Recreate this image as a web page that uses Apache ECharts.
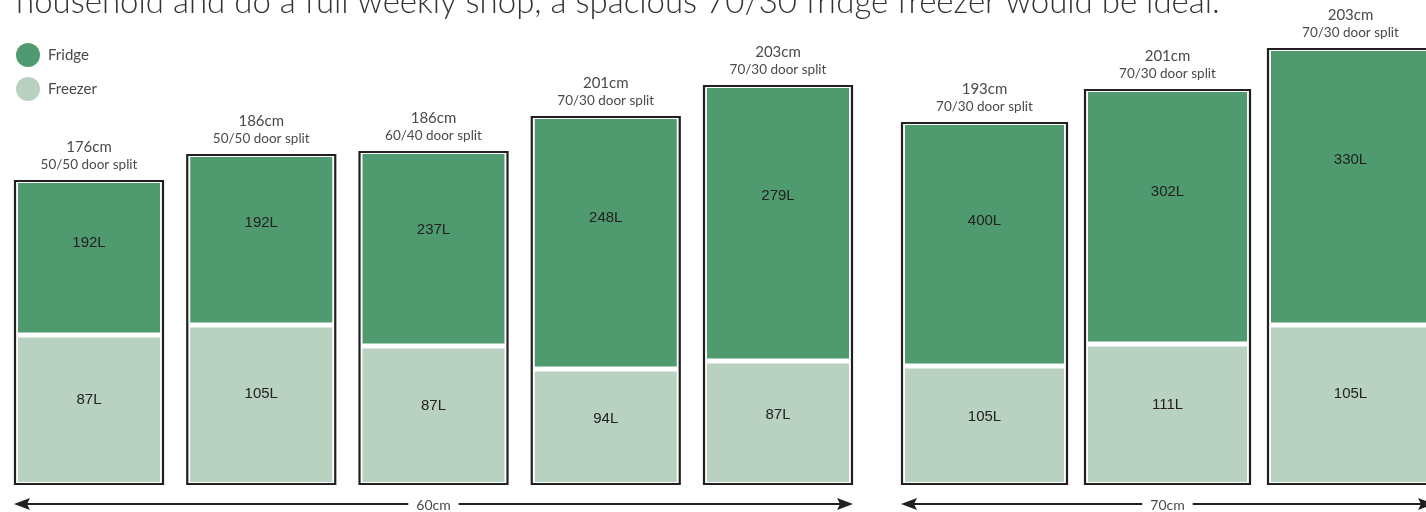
<!DOCTYPE html>
<html>
<head>
<meta charset="utf-8">
<script src="https://cdn.jsdelivr.net/npm/echarts@6/dist/echarts.min.js"></script>
<style>
  html, body { margin: 0; background: #fff; }
  #chart_box { width: 1426px; height: 512px; }
</style>
</head>
<body>
<div id="chart_box"></div>
<script>
// fridge freezers, left to right
const heightLabels = ['176cm', '186cm', '186cm', '201cm', '203cm', '193cm', '201cm', '203cm'];
const splitLabels = ['50/50 door split', '50/50 door split', '60/40 door split', '70/30 door split',
  '70/30 door split', '70/30 door split', '70/30 door split', '70/30 door split'];
const widthGroup = [0, 0, 0, 0, 0, 1, 1, 1]; // index into groupLabels
const groupLabels = ['60cm', '70cm'];
const fridgeLitres = [192, 192, 237, 248, 279, 400, 302, 330];
const freezerLitres = [87, 105, 87, 94, 87, 105, 111, 105];
// drawn box height and freezer part height (picture units)
const boxHeight = [305, 331, 334, 369, 400, 363, 396, 437];
const freezerHeight = [150, 160, 139, 116, 124, 119, 141, 160];

const titleText = 'household and do a full weekly shop, a spacious 70/30 fridge freezer would be ideal.';

const FRIDGE = '#4f9b6f';
const FREEZER = '#b8d1c1';
const INK = '#231f20';
const LABEL = '#4a4a4a';

// horizontal layout of each width group (x axis units)
const groups = [
  { start: 14, width: 150, step: 172.25 },
  { start: 901, width: 167, step: 183 }
];

function slot(i) {
  const g = widthGroup[i];
  const k = widthGroup.slice(0, i).filter(v => v === g).length;
  const L = groups[g];
  return { left: L.start + k * L.step, width: L.width };
}

const barData = heightLabels.map((_, i) => [i, boxHeight[i], freezerHeight[i]]);

function renderFridge(params, api) {
  const i = api.value(0);
  const s = slot(i);
  const tl = api.coord([s.left, api.value(1)]);
  const br = api.coord([s.left + s.width, 0]);
  const split = api.coord([0, api.value(2)])[1];
  const x = tl[0], w = br[0] - tl[0], top = tl[1], bot = br[1];
  const cx = x + w / 2;
  const fTop = top + 3, fBot = split - 2.5;
  return {
    type: 'group',
    children: [
      { type: 'rect', shape: { x: x + 1, y: top + 1, width: w - 2, height: bot - top - 2 },
        style: { fill: '#fff', stroke: INK, lineWidth: 2.2 } },
      { type: 'rect', shape: { x: x + 4, y: fTop, width: w - 8, height: fBot - fTop },
        style: { fill: FRIDGE } },
      { type: 'text', style: { x: cx, y: fTop + (fBot - fTop) * 0.4, text: fridgeLitres[i] + 'L',
        font: '15px "Liberation Sans", Arial, sans-serif', fill: '#222', align: 'center', verticalAlign: 'middle' } },
      { type: 'text', style: { x: cx, y: top - 33, text: heightLabels[i],
        font: '15px Lato, sans-serif', fill: LABEL, align: 'center', verticalAlign: 'middle' } },
      { type: 'text', style: { x: cx, y: top - 15, text: splitLabels[i],
        font: '13.5px Lato, sans-serif', fill: LABEL, align: 'center', verticalAlign: 'middle' } }
    ]
  };
}

function renderFreezer(params, api) {
  const i = api.value(0);
  const s = slot(i);
  const tl = api.coord([s.left, api.value(2)]);
  const br = api.coord([s.left + s.width, 0]);
  const x = tl[0], w = br[0] - tl[0];
  const zTop = tl[1] + 2.5, zBot = br[1] - 3;
  return {
    type: 'group',
    children: [
      { type: 'rect', shape: { x: x + 4, y: zTop, width: w - 8, height: zBot - zTop },
        style: { fill: FREEZER } },
      { type: 'text', style: { x: x + w / 2, y: zTop + (zBot - zTop) * 0.43, text: freezerLitres[i] + 'L',
        font: '15px "Liberation Sans", Arial, sans-serif', fill: '#222', align: 'center', verticalAlign: 'middle' } }
    ]
  };
}

function renderArrow(params, api) {
  const g = api.value(0);
  const idx = widthGroup.map((v, i) => v === g ? i : -1).filter(i => i >= 0);
  const first = slot(idx[0]), last = slot(idx[idx.length - 1]);
  const a = api.coord([first.left, -19]);
  const b = api.coord([last.left + last.width, -19]);
  const y = a[1], L = 16, H = 6;
  return {
    type: 'group',
    children: [
      { type: 'line', shape: { x1: a[0] + 4, y1: y, x2: b[0] - 4, y2: y }, style: { stroke: INK, lineWidth: 2 } },
      { type: 'polygon', shape: { points: [[a[0], y], [a[0] + L, y - H], [a[0] + L - 3, y], [a[0] + L, y + H]] },
        style: { fill: INK } },
      { type: 'polygon', shape: { points: [[b[0], y], [b[0] - L, y - H], [b[0] - L + 3, y], [b[0] - L, y + H]] },
        style: { fill: INK } },
      { type: 'text', style: { x: (a[0] + b[0]) / 2, y: y + 1, text: groupLabels[g],
        font: '14px Lato, sans-serif', fill: LABEL, align: 'center', verticalAlign: 'middle',
        backgroundColor: '#fff', padding: [0, 8] } }
    ]
  };
}

const chart = echarts.init(document.getElementById('chart_box'));
chart.setOption({
  animation: false,
  backgroundColor: '#fff',
  graphic: [{
    type: 'text', left: 16, top: -14,
    style: { text: titleText, font: '300 33px Lato, sans-serif', fill: '#333' }
  }],
  legend: {
    data: ['Fridge', 'Freezer'],
    orient: 'vertical', left: 16, top: 43, padding: 0,
    icon: 'circle', itemWidth: 24, itemHeight: 24, itemGap: 10,
    textStyle: { fontSize: 15, fontFamily: 'Lato', color: LABEL, padding: [0, 0, 0, 3] },
    selectedMode: false
  },
  grid: { left: 0, right: 0, top: 0, bottom: 0 },
  xAxis: { type: 'value', min: 0, max: 1426, show: false },
  yAxis: { type: 'value', min: -27, max: 485, show: false },
  series: [
    { name: 'Fridge', type: 'custom', renderItem: renderFridge, data: barData,
      itemStyle: { color: FRIDGE } },
    { name: 'Freezer', type: 'custom', renderItem: renderFreezer, data: barData,
      itemStyle: { color: FREEZER } },
    { name: 'width', type: 'custom', renderItem: renderArrow, data: groupLabels.map((_, g) => [g]) }
  ]
});
</script>
</body>
</html>
